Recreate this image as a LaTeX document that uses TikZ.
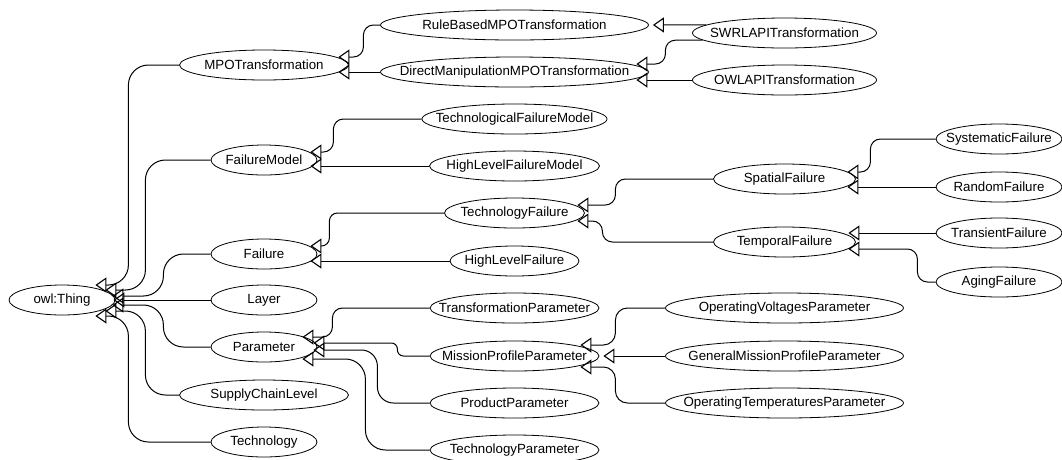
\documentclass[tikz,border=0pt]{standalone}
\usepackage{fontspec}
\setmainfont{Liberation Sans}
\usepackage{tikz}
\usetikzlibrary{shapes.geometric,arrows.meta,calc}
\tikzstyle{cls}=[ellipse,draw=black,line width=0.8pt,inner sep=0pt,minimum height=30pt,font=\fontsize{13.3}{16}\selectfont,execute at begin node={\hbox to 0pt\bgroup\hss},execute at end node={\hss\egroup}]
\tikzset{
	isa/.style={draw=black,line width=1pt,rounded corners=8pt,-{Triangle[open,length=11pt,width=15pt,line width=1.1pt]}},
	sub/.style={to path={-| ($(\tikztotarget)+(#1,0)$) -- (\tikztotarget)}}
}

\begin{document}
\begin{tikzpicture}[x=1pt,y=1pt]
    \useasboundingbox (0,0) rectangle (1062,-459);
    \node[cls,minimum width=106pt] (owl) at (62,-300) {owl:Thing};

    \node[cls,minimum width=169pt] (mpo) at (264,-65) {MPOTransformation};
    \node[cls,minimum width=106pt] (fmodel) at (264,-160) {FailureModel};
    \node[cls,minimum width=106pt] (failure) at (264,-254) {Failure};
    \node[cls,minimum width=106pt] (layer) at (264,-300) {Layer};
    \node[cls,minimum width=106pt] (param) at (264,-347) {Parameter};
    \node[cls,minimum width=169pt] (supply) at (264,-395) {SupplyChainLevel};
    \node[cls,minimum width=106pt] (tech) at (264,-442) {Technology};

    \node[cls,minimum width=268pt] (rule) at (514.5,-25) {RuleBasedMPOTransformation};
    \node[cls,minimum width=268pt] (dm) at (514.5,-72) {DirectManipulationMPOTransformation};
    \node[cls,minimum width=185pt] (techfm) at (514.5,-119) {TechnologicalFailureModel};
    \node[cls,minimum width=170pt] (hlfm) at (514.5,-166) {HighLevelFailureModel};
    \node[cls,minimum width=140pt] (techfail) at (514.5,-213) {TechnologyFailure};
    \node[cls,minimum width=129pt] (hlfail) at (514.5,-261) {HighLevelFailure};
    \node[cls,minimum width=169pt] (transparam) at (514.5,-308) {TransformationParameter};
    \node[cls,minimum width=169pt] (mission) at (514.5,-356) {MissionProfileParameter};
    \node[cls,minimum width=169pt] (product) at (514.5,-403) {ProductParameter};
    \node[cls,minimum width=169pt] (techparam) at (514.5,-450) {TechnologyParameter};

    \node[cls,minimum width=184pt] (swrl) at (784.5,-33) {SWRLAPITransformation};
    \node[cls,minimum width=184pt] (owlapi) at (784.5,-80) {OWLAPITransformation};
    \node[cls,minimum width=142pt] (spatial) at (784.5,-179) {SpatialFailure};
    \node[cls,minimum width=142pt] (temporal) at (784.5,-242) {TemporalFailure};
    \node[cls,minimum width=238pt] (opvolt) at (784.5,-308) {OperatingVoltagesParameter};
    \node[cls,minimum width=238pt] (genmission) at (784.5,-356) {GeneralMissionProfileParameter};
    \node[cls,minimum width=238pt] (optemp) at (784.5,-403) {OperatingTemperaturesParameter};

    \node[cls,minimum width=126pt] (systematic) at (999,-139) {SystematicFailure};
    \node[cls,minimum width=126pt] (random) at (999,-187) {RandomFailure};
    \node[cls,minimum width=126pt] (transient) at (999,-233) {TransientFailure};
    \node[cls,minimum width=126pt] (aging) at (999,-282) {AgingFailure};

    \draw[isa,rounded corners=20pt] (mpo.west) to[sub=33] ([xshift=-20pt,yshift=15pt]owl.east);
    \draw[isa,rounded corners=20pt] (fmodel.west) to[sub=40] ([xshift=-10pt,yshift=10pt]owl.east);
    \draw[isa,rounded corners=20pt] (failure.west) to[sub=51] ([xshift=-3pt,yshift=4pt]owl.east);
    \draw[isa] (layer.west) -- ([xshift=-2pt]owl.east);
    \draw[isa,rounded corners=20pt] (param.west) to[sub=51] ([xshift=-3pt,yshift=-5pt]owl.east);
    \draw[isa,rounded corners=20pt] (supply.west) to[sub=40] ([xshift=-10pt,yshift=-11pt]owl.east);
    \draw[isa,rounded corners=20pt] (tech.west) to[sub=33] ([xshift=-20pt,yshift=-16pt]owl.east);

    \draw[isa,rounded corners=10pt] (rule.west) to[sub=25] ([xshift=-10.5pt,yshift=8pt]mpo.east);
    \draw[isa] (dm.west) -- ([xshift=-10.5pt,yshift=-7pt]mpo.east);
    \draw[isa,rounded corners=10pt] (techfm.west) to[sub=23] ([xshift=-7pt,yshift=8pt]fmodel.east);
    \draw[isa] (hlfm.west) -- ([xshift=-7pt,yshift=-6pt]fmodel.east);
    \draw[isa] (techfail.west) to[sub=19] ([xshift=-7pt,yshift=8pt]failure.east);
    \draw[isa] (hlfail.west) -- ([xshift=-7pt,yshift=-7pt]failure.east);
    \draw[isa,rounded corners=10pt] (transparam.west) to[sub=30] ([xshift=-15pt,yshift=10pt]param.east);
    \draw[isa,rounded corners=6pt] (mission.west) to[sub=84] ([xshift=-4pt,yshift=4pt]param.east);
    \draw[isa,rounded corners=16pt] (product.west) to[sub=64] ([xshift=-4pt,yshift=-3pt]param.east);
    \draw[isa,rounded corners=20pt] (techparam.west) to[sub=63] ([xshift=-15pt,yshift=-12pt]param.east);

    \draw[isa] (swrl.174) -- ([xshift=4pt]rule.east);
    \draw[isa,rounded corners=10pt] (swrl.185) to[sub=29] ([xshift=-12.5pt,yshift=8pt]dm.east);
    \draw[isa] (owlapi.west) -- ([xshift=-12.5pt,yshift=-8pt]dm.east);
    \draw[isa,rounded corners=10pt] (spatial.west) to[sub=38] ([xshift=-7.5pt,yshift=8pt]techfail.east);
    \draw[isa,rounded corners=10pt] (temporal.west) to[sub=25] ([xshift=-7.5pt,yshift=-8pt]techfail.east);
    \draw[isa,rounded corners=12pt] (opvolt.west) to[sub=35] ([xshift=-19pt,yshift=11pt]mission.east);
    \draw[isa] (genmission.west) -- ([xshift=4pt]mission.east);
    \draw[isa,rounded corners=12pt] (optemp.west) to[sub=35] ([xshift=-19pt,yshift=-11pt]mission.east);

    \draw[isa,rounded corners=10pt] (systematic.west) to[sub=23] ([xshift=-8.5pt,yshift=7pt]spatial.east);
    \draw[isa] (random.west) -- ([xshift=-8.5pt,yshift=-8pt]spatial.east);
    \draw[isa] (transient.west) -- ([xshift=-7.5pt,yshift=9pt]temporal.east);
    \draw[isa,rounded corners=10pt] (aging.west) to[sub=69] ([xshift=-7.5pt,yshift=-7pt]temporal.east);
\end{tikzpicture}
\end{document}
